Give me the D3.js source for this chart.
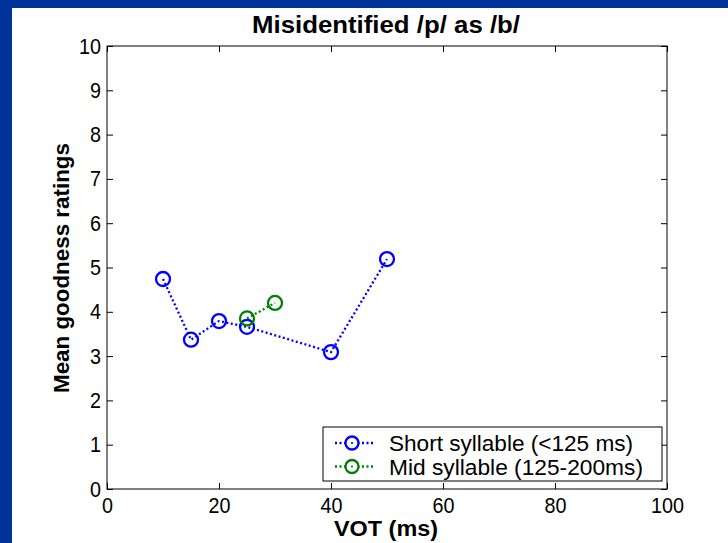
<!DOCTYPE html>
<html>
<head>
<meta charset="utf-8">
<script src="https://cdn.jsdelivr.net/npm/d3@7"></script>
<style>
  body { margin: 0; background: #003399; }
  text { font-family: "Liberation Sans", Arial, sans-serif; }
</style>
</head>
<body>
<div id="plot"></div>
<script>
// values
const shortX = [10, 15, 20, 25, 40, 50];
const shortY = [4.74, 3.37, 3.79, 3.66, 3.09, 5.19];
const midX = [25, 30];
const midY = [3.85, 4.2];
const xTicks = [0, 20, 40, 60, 80, 100];
const yTicks = [0, 1, 2, 3, 4, 5, 6, 7, 8, 9, 10];
const legendLabels = ["Short syllable (<125 ms)", "Mid syllable (125-200ms)"];
const colors = ["#0000ff", "#008000"];

const w = 728;
const h = 543;
const margin = {top: 46, right: 61, bottom: 54, left: 107};
const innerWidth = w - margin.left - margin.right;
const innerHeight = h - margin.top - margin.bottom;

const svg = d3.select("div#plot")
    .append("svg")
    .attr("width", w)
    .attr("height", h)
    .style("display", "block");

svg.append("rect")
    .attr("x", 12)
    .attr("y", 8)
    .attr("width", w - 12)
    .attr("height", h - 8)
    .attr("fill", "white");

const xScale = d3.scaleLinear().domain([0, 100]).range([0, innerWidth]);
const yScale = d3.scaleLinear().domain([0, 10]).range([innerHeight, 0]);

const g = svg.append("g")
    .attr("transform", `translate(${margin.left}, ${margin.top})`);

// box
g.append("rect")
    .attr("width", innerWidth)
    .attr("height", innerHeight)
    .attr("fill", "none")
    .attr("stroke", "black")
    .attr("stroke-width", 1);

const xAxis = g.append("g")
    .attr("transform", `translate(0, ${innerHeight})`)
    .call(d3.axisBottom(xScale).tickValues(xTicks).tickSize(-6).tickPadding(8).tickSizeOuter(0));
const xTop = g.append("g")
    .call(d3.axisTop(xScale).tickValues(xTicks).tickSize(-6).tickFormat("").tickSizeOuter(0));
const yAxis = g.append("g")
    .call(d3.axisLeft(yScale).tickValues(yTicks).tickSize(-6).tickPadding(6).tickSizeOuter(0));
const yRight = g.append("g")
    .attr("transform", `translate(${innerWidth}, 0)`)
    .call(d3.axisRight(yScale).tickValues(yTicks).tickSize(-6).tickFormat("").tickSizeOuter(0));

[xAxis, xTop, yAxis, yRight].forEach(a => {
  a.select(".domain").remove();
  a.selectAll("line").attr("stroke", "black");
  a.selectAll("text")
      .attr("fill", "black")
      .attr("textLength", function() { return this.textContent.length * 11; })
      .attr("lengthAdjust", "spacingAndGlyphs")
      .style("font-family", "'Liberation Sans', Arial, sans-serif")
      .style("font-size", "22px");
});

// series
const line = d3.line()
    .x(d => xScale(d[0]))
    .y(d => yScale(d[1]));

const series = [
  shortX.map((x, i) => [x, shortY[i]]),
  midX.map((x, i) => [x, midY[i]])
];

series.forEach((pts, k) => {
  g.append("path")
      .datum(pts)
      .attr("d", line)
      .attr("fill", "none")
      .attr("stroke", colors[k])
      .attr("stroke-width", 2.3)
      .attr("stroke-dasharray", "2,2.5");

  g.selectAll(".pt" + k)
    .data(pts)
    .enter().append("circle")
      .attr("class", "pt" + k)
      .attr("cx", d => xScale(d[0]))
      .attr("cy", d => yScale(d[1]))
      .attr("r", 7)
      .attr("fill", "none")
      .attr("stroke", colors[k])
      .attr("stroke-width", 2.3);
});

// legend
const legend = svg.append("g")
    .attr("transform", "translate(323, 427)");

legend.append("rect")
    .attr("width", 339)
    .attr("height", 54)
    .attr("fill", "white")
    .attr("stroke", "black")
    .attr("stroke-width", 1);

const legendWidths = [244, 254];

legendLabels.forEach((lab, k) => {
  const yy = 16 + k * 23.5;
  legend.append("line")
      .attr("x1", 12)
      .attr("x2", 52)
      .attr("y1", yy)
      .attr("y2", yy)
      .attr("stroke", colors[k])
      .attr("stroke-width", 2.3)
      .attr("stroke-dasharray", "2,2.5");
  legend.append("circle")
      .attr("cx", 29)
      .attr("cy", yy)
      .attr("r", 6.5)
      .attr("fill", "white")
      .attr("stroke", colors[k])
      .attr("stroke-width", 2.3);
  legend.append("circle")
      .attr("cx", 29)
      .attr("cy", yy)
      .attr("r", 1.1)
      .attr("fill", colors[k]);
  legend.append("text")
      .attr("x", 66)
      .attr("y", yy + 8)
      .attr("fill", "black")
      .attr("textLength", legendWidths[k])
      .attr("lengthAdjust", "spacingAndGlyphs")
      .style("font-size", "22px")
      .text(lab);
});

// titles
svg.append("text")
    .attr("x", 386)
    .attr("y", 33)
    .attr("text-anchor", "middle")
    .attr("fill", "black")
    .attr("textLength", 268)
    .attr("lengthAdjust", "spacingAndGlyphs")
    .style("font-size", "23px")
    .style("font-weight", "bold")
    .text("Misidentified /p/ as /b/");

svg.append("text")
    .attr("x", 386)
    .attr("y", 536)
    .attr("text-anchor", "middle")
    .attr("fill", "black")
    .attr("textLength", 104)
    .attr("lengthAdjust", "spacingAndGlyphs")
    .style("font-size", "22px")
    .style("font-weight", "bold")
    .text("VOT (ms)");

svg.append("text")
    .attr("transform", "translate(69, 268) rotate(-90)")
    .attr("text-anchor", "middle")
    .attr("fill", "black")
    .attr("textLength", 250)
    .attr("lengthAdjust", "spacingAndGlyphs")
    .style("font-size", "22px")
    .style("font-weight", "bold")
    .text("Mean goodness ratings");
</script>
</body>
</html>
